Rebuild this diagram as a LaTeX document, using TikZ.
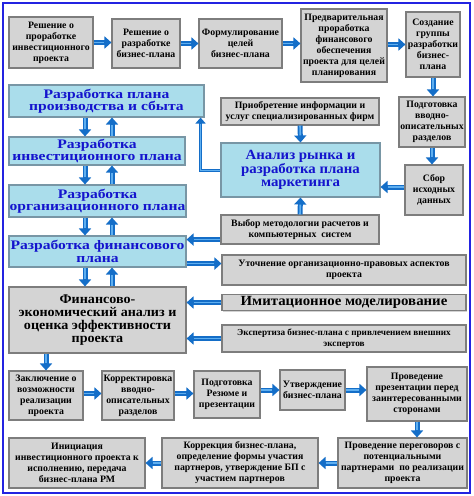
\documentclass[tikz,border=0pt]{standalone}
\usepackage{fontspec}
\setmainfont{Liberation Serif}
\newfontfamily\wbf[FakeStretch=1.2]{Liberation Serif}
\newfontfamily\mbf[FakeStretch=1.06]{Liberation Serif}
\newfontfamily\nbf[FakeStretch=1.0]{Liberation Serif}
\usetikzlibrary{arrows.meta,shadows}
\definecolor{boxgray}{RGB}{212,212,212}
\definecolor{boxline}{RGB}{125,125,125}
\definecolor{lblue}{RGB}{170,221,235}
\definecolor{lbline}{RGB}{120,150,165}
\definecolor{btext}{RGB}{20,20,205}
\definecolor{arrblue}{RGB}{20,110,200}
\definecolor{arrlight}{RGB}{95,175,240}
\definecolor{framecol}{RGB}{35,35,225}
\begin{document}
\begin{tikzpicture}[x=1pt,y=-1pt,
  sz/.style 2 args={minimum width=#1, minimum height=#2},
  gbox/.style={draw=boxline, fill=boxgray, line width=1.1, inner sep=0, align=center,
    drop shadow={shadow xshift=1.2pt, shadow yshift=-1.2pt, opacity=0.35},
    font=\nbf\bfseries\fontsize{9.8}{11}\selectfont},
  bbox/.style={draw=lbline, fill=lblue, line width=1.1, inner sep=0, align=center,
    drop shadow={shadow xshift=1.2pt, shadow yshift=-1.2pt, opacity=0.35},
    text=btext, font=\wbf\bfseries\fontsize{13}{12.5}\selectfont},
  arr/.style={draw=arrblue, line width=5, -{Triangle[width=12pt,length=7pt]},
    postaction={draw=arrlight, line width=1.6, -, shorten >=7pt}},
  lnarr/.style={draw=arrblue, line width=3, -{Triangle[width=10pt,length=6pt]},
    postaction={draw=arrlight, line width=0.9, -, shorten >=6pt}}
]
\useasboundingbox (0,0) rectangle (474,496);
\fill[white] (0,0) rectangle (474,496);
\draw[framecol, line width=2] (3,3) rectangle (470,493);

% row 1
\node[gbox, sz={84}{51}] (r1a) at (51,42.5) {Решение о\\проработке\\инвестиционного\\проекта};
\node[gbox, sz={68}{49}] (r1b) at (146,43.5) {Решение о\\разработке\\бизнес-плана};
\node[gbox, sz={83}{49}] (r1c) at (240.5,43.5) {Формулирование\\целей\\бизнес-плана};
\node[gbox, sz={86}{73}] (r1d) at (344,45.5) {Предварительная\\проработка\\финансового\\обеспечения\\проекта для целей\\планирования};
\node[gbox, sz={54}{65}] (r1e) at (433,44.5) {Создание\\группы\\разработки\\бизнес-\\плана};

% left column
\node[bbox, sz={195}{32}] (A) at (106.5,101) {Разработка плана\\производства и сбыта};
\node[bbox, sz={176}{28}] (B) at (97,151) {Разработка\\инвестиционного плана};
\node[bbox, sz={177}{32}] (C) at (97.5,201) {Разработка\\организационного плана};
\node[bbox, sz={177}{31}] (D) at (97.5,251.5) {Разработка финансового\\плана};
\node[gbox, sz={177}{66}, font=\mbf\bfseries\fontsize{13.3}{12.8}\selectfont] (E) at (97.5,320) {Финансово-\\экономический анализ и\\оценка эффективности\\проекта};

% right column
\node[gbox, sz={66}{50}] (prep) at (432,122) {Подготовка\\вводно-\\описательных\\разделов};
\node[gbox, sz={58}{50}] (sbor) at (434,190) {Сбор\\исходных\\данных};

% middle
\node[gbox, sz={158}{27}] (acq) at (300,111.5) {Приобретение информации и\\услуг специализированных фирм};
\node[bbox, sz={159}{54}, font=\mbf\bfseries\fontsize{14}{12.8}\selectfont] (anal) at (300.5,170) {Анализ рынка и\\разработка плана\\маркетинга};
\node[gbox, sz={158}{29}] (vyb) at (300,229.5) {Выбор методологии расчетов и\\компьютерных\ \ систем};
\node[gbox, sz={244}{30}] (utoch) at (344,270) {Уточнение организационно-правовых аспектов\\проекта};
\node[gbox, sz={244}{16}, font=\mbf\bfseries\fontsize{14}{14}\selectfont] (imit) at (344,302.5) {Имитационное моделирование};
\node[gbox, sz={244}{27}, font=\nbf\bfseries\fontsize{9.2}{10.5}\selectfont] (eksp) at (344,338.5) {Экспертиза бизнес-плана с привлечением внешних\\экспертов};

% bottom row 1
\node[gbox, sz={74}{49}] (zak) at (46,395.5) {Заключение о\\возможности\\реализации\\проекта};
\node[gbox, sz={72}{49}] (korr) at (138,395.5) {Корректировка\\вводно-\\описательных\\разделов};
\node[gbox, sz={66}{47}] (podg) at (227,394.5) {Подготовка\\Резюме и\\презентации};
\node[gbox, sz={65}{40}] (utv) at (312.5,390) {Утверждение\\бизнес-плана};
\node[gbox, sz={100}{54}] (pres) at (417,394) {Проведение\\презентации перед\\заинтересованными\\сторонами};

% bottom row 2
\node[gbox, sz={129}{50}] (pereg) at (402.5,463) {Проведение переговоров с\\потенциальными\\партнерами\ \ по реализации\\проекта};
\node[gbox, sz={156}{50}] (korrekc) at (240,463) {Коррекция бизнес-плана,\\определение формы участия\\партнеров, утверждение БП с\\участием партнеров};
\node[gbox, sz={136}{50}] (inic) at (77,463) {Инициация\\инвестиционного проекта к\\исполнению, передача\\бизнес-плана РМ};

% coordinates for vertical arrows on the left
\coordinate (dnx) at (85,0);
\coordinate (upx) at (112,0);

% row 1 arrows
\draw[arr] (r1a.east) -- (r1a.east -| r1b.west);
\draw[arr] (r1b.east) -- (r1b.east -| r1c.west);
\draw[arr] (r1c.east) -- (r1c.east -| r1d.west);
\draw[arr] (r1d.east |- r1e.west) -- (r1e.west);
\draw[arr] (r1e.south) -- (r1e.south |- prep.north);
\draw[arr] (prep.south) -- (prep.south |- sbor.north);
\draw[arr] ([yshift=3]sbor.west) -- ([yshift=3]sbor.west -| anal.east);

% left column arrows
\draw[arr] (A.south -| dnx) -- (B.north -| dnx);
\draw[arr] (B.north -| upx) -- (A.south -| upx);
\draw[arr] (B.south -| dnx) -- (C.north -| dnx);
\draw[arr] (C.north -| upx) -- (B.south -| upx);
\draw[arr] (C.south -| dnx) -- (D.north -| dnx);
\draw[arr] (D.north -| upx) -- (C.south -| upx);
\draw[arr] (D.south -| dnx) -- (E.north -| dnx);
\draw[arr] (E.north -| upx) -- (D.south -| upx);
\draw[arr] (E.south -| zak.north) -- (zak.north);

% middle arrows
\draw[arr] (acq.south) -- (anal.north);
\draw[arr] (vyb.north) -- (anal.south);
\draw[lnarr] (anal.west) -| ([xshift=-4]A.south east);
\draw[arr] ([yshift=5]vyb.south west) -- ([yshift=5]vyb.south west -| D.east);
\draw[arr] ([yshift=4]D.south east) -- ([yshift=4]D.south east -| utoch.west);
\draw[arr] (imit.west) -- (imit.west -| E.east);
\draw[arr] (eksp.west) -- (eksp.west -| E.east);

% bottom arrows
\draw[arr] ([yshift=2]zak.east) -- ([yshift=2]zak.east -| korr.west);
\draw[arr] ([yshift=2]korr.east) -- ([yshift=2]korr.east -| podg.west);
\draw[arr] (utv.west -| podg.east) -- (utv.west);
\draw[arr] (utv.east) -- (utv.east -| pres.west);
\draw[arr] (pres.south) -- (pres.south |- pereg.north);
\draw[arr] (pereg.west) -- (pereg.west -| korrekc.east);
\draw[arr] (korrekc.west) -- (korrekc.west -| inic.east);
\end{tikzpicture}
\end{document}
